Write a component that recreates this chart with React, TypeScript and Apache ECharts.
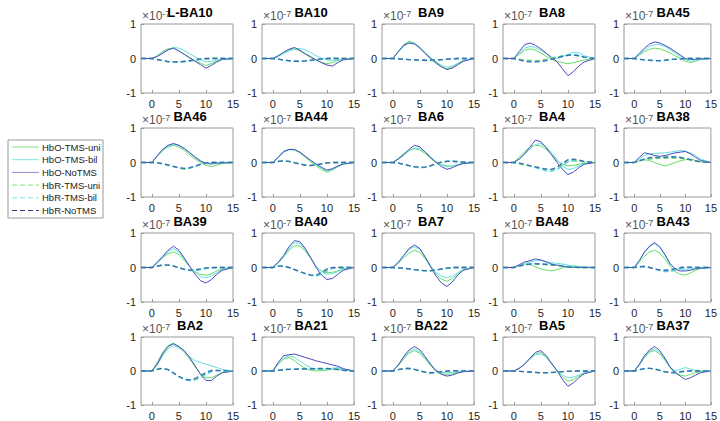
import React, { useEffect, useRef } from "react";
import * as echarts from "echarts";

const xs = [-2, 0, 1, 2, 3, 4, 5, 6, 7, 8, 9, 10, 11, 12, 13, 15];
const xTicks = [0, 5, 10, 15];
const panelNames = [
  "L-BA10", "BA10", "BA9", "BA8", "BA45",
  "BA46", "BA44", "BA6", "BA4", "BA38",
  "BA39", "BA40", "BA7", "BA48", "BA43",
  "BA2", "BA21", "BA22", "BA5", "BA37",
];
const seriesNames = ["HbO-TMS-uni", "HbO-TMS-bil", "HbO-NoTMS", "HbR-TMS-uni", "HbR-TMS-bil", "HbR-NoTMS"];

// values in units of 1e-7
const hboUni = [
  [0,0,0.08,0.2,0.28,0.3,0.22,0.12,0.02,-0.07,-0.14,-0.2,-0.15,-0.08,-0.02,0],
  [0,0,0.08,0.18,0.25,0.28,0.22,0.12,0.03,-0.05,-0.11,-0.15,-0.12,-0.06,-0.02,0],
  [0,0,0.2,0.4,0.5,0.45,0.32,0.15,-0.02,-0.15,-0.25,-0.3,-0.25,-0.15,-0.06,0],
  [0,0,0.12,0.24,0.28,0.24,0.16,0.06,-0.02,-0.08,-0.12,-0.15,-0.12,-0.08,-0.04,0],
  [0,0,0.1,0.2,0.27,0.3,0.28,0.23,0.16,0.08,0,-0.08,-0.12,-0.08,-0.03,0],
  [0,0,0.18,0.34,0.45,0.5,0.45,0.35,0.22,0.1,0,-0.08,-0.12,-0.08,-0.03,0],
  [0,0,0.15,0.32,0.38,0.36,0.28,0.15,0.02,-0.1,-0.2,-0.28,-0.22,-0.13,-0.05,0],
  [0,0,0.12,0.26,0.36,0.4,0.36,0.26,0.12,0,-0.06,-0.1,-0.1,-0.06,-0.02,0],
  [0,0,0.15,0.32,0.45,0.5,0.48,0.38,0.22,0.05,-0.05,-0.1,-0.08,-0.05,-0.02,0],
  [0,0,0.05,0.08,0.06,0,-0.05,-0.1,-0.06,0,0.05,0.08,0.1,0.06,0.02,0],
  [0,0,0.13,0.28,0.4,0.45,0.38,0.2,0.02,-0.12,-0.2,-0.22,-0.18,-0.1,-0.04,0],
  [0,0,0.13,0.3,0.5,0.63,0.62,0.48,0.26,0.03,-0.1,-0.15,-0.14,-0.1,-0.04,0],
  [0,0,0.12,0.28,0.42,0.5,0.44,0.25,0.02,-0.2,-0.34,-0.4,-0.32,-0.18,-0.07,0],
  [0,0,0.05,0.1,0.08,0.02,-0.04,-0.08,-0.1,-0.06,-0.01,0.03,0.05,0.03,0.01,0],
  [0,0,0.15,0.32,0.45,0.5,0.42,0.25,0.04,-0.12,-0.2,-0.22,-0.16,-0.08,-0.03,0],
  [0,0,0.25,0.55,0.75,0.82,0.72,0.55,0.35,0.12,-0.08,-0.2,-0.2,-0.12,-0.05,0],
  [0,0,0.2,0.35,0.4,0.3,0.18,0.08,0.02,0,0.01,0.03,0.05,0.06,0.03,0],
  [0,0,0.15,0.36,0.52,0.6,0.52,0.35,0.15,0,-0.08,-0.1,-0.08,-0.04,-0.02,0],
  [0,0,0.08,0.2,0.36,0.5,0.55,0.42,0.2,0,-0.18,-0.3,-0.25,-0.15,-0.06,0],
  [0,0,0.17,0.4,0.55,0.6,0.5,0.32,0.1,-0.05,-0.12,-0.15,-0.1,-0.05,-0.02,0],
];
const hboBil = [
  [0,0,0.07,0.17,0.26,0.32,0.3,0.23,0.14,0.05,-0.03,-0.1,-0.09,-0.05,-0.02,0],
  [0,0,0.06,0.14,0.22,0.27,0.29,0.25,0.17,0.08,0.01,-0.04,-0.06,-0.04,-0.02,0],
  [0,0,0.18,0.36,0.46,0.44,0.33,0.17,0.02,-0.1,-0.2,-0.25,-0.22,-0.14,-0.06,0],
  [0,0,0.15,0.3,0.35,0.32,0.24,0.14,0.04,0,0.05,0.12,0.18,0.17,0.08,0],
  [0,0,0.12,0.25,0.35,0.4,0.4,0.35,0.26,0.16,0.06,-0.03,-0.08,-0.06,-0.02,0],
  [0,0,0.18,0.35,0.47,0.53,0.5,0.42,0.3,0.17,0.06,-0.02,-0.04,-0.03,-0.01,0],
  [0,0,0.14,0.3,0.37,0.37,0.3,0.18,0.05,-0.06,-0.16,-0.25,-0.2,-0.12,-0.05,0],
  [0,0,0.1,0.22,0.34,0.42,0.4,0.3,0.16,0.02,-0.08,-0.12,-0.1,-0.06,-0.02,0],
  [0,0,0.1,0.25,0.4,0.52,0.55,0.45,0.28,0.08,-0.1,-0.2,-0.18,-0.1,-0.04,0],
  [0,0,0.1,0.2,0.25,0.26,0.27,0.28,0.3,0.32,0.35,0.33,0.28,0.2,0.1,0],
  [0,0,0.14,0.3,0.45,0.55,0.45,0.25,0.03,-0.15,-0.27,-0.3,-0.25,-0.15,-0.06,0],
  [0,0,0.14,0.32,0.55,0.72,0.7,0.52,0.28,0.03,-0.12,-0.2,-0.18,-0.12,-0.05,0],
  [0,0,0.14,0.33,0.52,0.6,0.52,0.3,0.05,-0.15,-0.25,-0.3,-0.25,-0.15,-0.06,0],
  [0,0,0.06,0.12,0.16,0.2,0.2,0.17,0.14,0.12,0.1,0.07,0.04,0.02,0.01,0],
  [0,0,0.2,0.43,0.6,0.7,0.58,0.36,0.1,-0.03,-0.05,-0.05,-0.04,-0.02,-0.01,0],
  [0,0,0.18,0.45,0.65,0.75,0.68,0.56,0.42,0.3,0.25,0.2,0.15,0.1,0.05,0],
  [0,0,0.2,0.38,0.45,0.4,0.3,0.18,0.1,0.06,0.05,0.06,0.08,0.1,0.05,0],
  [0,0,0.17,0.4,0.56,0.65,0.56,0.38,0.18,0.02,-0.04,-0.05,-0.04,-0.02,-0.01,0],
  [0,0,0.08,0.2,0.35,0.48,0.5,0.4,0.22,0.02,-0.12,-0.2,-0.18,-0.12,-0.05,0],
  [0,0,0.18,0.42,0.58,0.65,0.55,0.35,0.12,0,0.05,0.1,0.06,0.02,0.01,0],
];
const hboNo = [
  [0,0,0.06,0.15,0.25,0.3,0.22,0.12,0.02,-0.08,-0.18,-0.28,-0.2,-0.1,-0.03,0],
  [0,0,0.08,0.18,0.27,0.32,0.24,0.14,0.05,-0.04,-0.12,-0.19,-0.22,-0.12,-0.04,0],
  [0,0,0.2,0.38,0.45,0.42,0.3,0.14,0,-0.12,-0.24,-0.32,-0.28,-0.18,-0.08,0],
  [0,0,0.2,0.4,0.45,0.38,0.28,0.15,0.02,-0.1,-0.3,-0.5,-0.38,-0.22,-0.1,0],
  [0,0,0.15,0.3,0.42,0.48,0.45,0.38,0.3,0.2,0.1,0,-0.03,-0.02,-0.01,0],
  [0,0,0.2,0.38,0.5,0.55,0.5,0.4,0.28,0.15,0.04,-0.03,-0.04,-0.02,-0.01,0],
  [0,0,0.15,0.32,0.38,0.38,0.3,0.18,0.06,-0.04,-0.14,-0.22,-0.18,-0.1,-0.04,0],
  [0,0,0.1,0.22,0.38,0.5,0.45,0.3,0.14,0,-0.12,-0.2,-0.15,-0.08,-0.03,0],
  [0,0,0.1,0.25,0.45,0.65,0.6,0.42,0.22,0,-0.2,-0.35,-0.28,-0.15,-0.05,0],
  [0,0,0.15,0.28,0.25,0.2,0.18,0.2,0.24,0.28,0.3,0.32,0.25,0.15,0.06,0],
  [0,0,0.15,0.32,0.5,0.62,0.5,0.28,0.03,-0.2,-0.38,-0.45,-0.35,-0.2,-0.08,0],
  [0,0,0.15,0.35,0.6,0.78,0.75,0.55,0.28,0,-0.22,-0.35,-0.32,-0.2,-0.08,0],
  [0,0,0.15,0.35,0.55,0.65,0.55,0.3,0.02,-0.25,-0.45,-0.55,-0.42,-0.22,-0.08,0],
  [0,0,0.08,0.16,0.2,0.25,0.22,0.16,0.1,0.07,0.04,0.01,0,0,0,0],
  [0,0,0.2,0.45,0.62,0.72,0.6,0.38,0.12,-0.05,-0.1,-0.1,-0.08,-0.04,-0.02,0],
  [0,0,0.2,0.5,0.72,0.8,0.72,0.6,0.4,0.15,-0.1,-0.28,-0.28,-0.15,-0.05,0],
  [0,0,0.25,0.45,0.48,0.5,0.45,0.4,0.35,0.3,0.26,0.22,0.18,0.14,0.07,0],
  [0,0,0.18,0.42,0.62,0.72,0.62,0.42,0.2,0,-0.1,-0.15,-0.12,-0.06,-0.02,0],
  [0,0,0.08,0.2,0.38,0.55,0.6,0.45,0.22,0,-0.25,-0.45,-0.35,-0.2,-0.08,0],
  [0,0,0.2,0.45,0.62,0.72,0.6,0.38,0.12,-0.05,-0.15,-0.25,-0.2,-0.12,-0.05,0],
];
const hbrUni = [
  [0,0,-0.03,-0.06,-0.09,-0.1,-0.1,-0.09,-0.07,-0.05,-0.02,0,0.01,0.01,0,0],
  [0,0,-0.02,-0.05,-0.07,-0.08,-0.08,-0.07,-0.05,-0.03,-0.01,0,0.01,0,0,0],
  [0,0,-0.01,-0.02,-0.03,-0.04,-0.05,-0.06,-0.06,-0.05,-0.04,-0.02,-0.01,0,0,0],
  [0,0,-0.02,-0.04,-0.05,-0.06,-0.05,-0.02,0.02,0.05,0.08,0.1,0.1,0.08,0.04,0],
  [0,0,-0.02,-0.04,-0.05,-0.06,-0.06,-0.05,-0.04,-0.02,-0.01,0,0,0,0,0],
  [0,0,-0.01,-0.04,-0.08,-0.12,-0.16,-0.2,-0.17,-0.12,-0.06,-0.02,0,0,0,0],
  [0,0,0.03,0.05,0.03,0,-0.04,-0.07,-0.08,-0.07,-0.04,-0.01,0,0,0,0],
  [0,0,-0.02,-0.05,-0.09,-0.13,-0.15,-0.14,-0.1,-0.04,0.01,0.04,0.04,0.03,0.01,0],
  [0,0,-0.04,-0.08,-0.1,-0.13,-0.17,-0.2,-0.2,-0.15,-0.06,0.03,0.05,0.04,0.02,0],
  [0,0,0.04,0.08,0.1,0.11,0.12,0.12,0.13,0.13,0.12,0.1,0.07,0.04,0.02,0],
  [0,0,0.04,0.07,0.08,0.05,0,-0.05,-0.08,-0.08,-0.06,-0.03,-0.01,0,0,0],
  [0,0,0.04,0.04,0,-0.06,-0.12,-0.18,-0.22,-0.24,-0.18,-0.08,-0.02,0,0,0],
  [0,0,-0.01,-0.02,-0.04,-0.06,-0.08,-0.1,-0.1,-0.08,-0.05,-0.02,0,0,0,0],
  [0,0,0.04,0.08,0.1,0.1,0.09,0.08,0.07,0.06,0.04,0.02,0.01,0,0,0],
  [0,0,0.02,0.03,0,-0.04,-0.08,-0.1,-0.1,-0.06,-0.02,0,0,0,0,0],
  [0,0,0.05,0.08,0.04,-0.06,-0.16,-0.24,-0.27,-0.25,-0.18,-0.08,0,0.02,0.01,0],
  [0,0,0.02,0.04,0.05,0.05,0.05,0.05,0.05,0.05,0.05,0.05,0.05,0.04,0.02,0],
  [0,0,0.04,0.07,0.08,0.05,0,-0.04,-0.06,-0.05,-0.03,-0.01,0,0,0,0],
  [0,0,-0.01,-0.02,-0.03,-0.04,-0.05,-0.05,-0.04,-0.03,-0.02,-0.01,0,0,0,0],
  [0,0,0.04,0.07,0.08,0.06,0.02,-0.02,-0.05,-0.05,-0.03,-0.01,0,0,0,0],
];
const hbrBil = [
  [0,0,-0.03,-0.07,-0.1,-0.11,-0.11,-0.1,-0.08,-0.05,-0.03,-0.01,0,0,0,0],
  [0,0,-0.02,-0.05,-0.07,-0.08,-0.09,-0.08,-0.06,-0.04,-0.02,0,0,0,0,0],
  [0,0,-0.01,-0.02,-0.03,-0.04,-0.05,-0.05,-0.05,-0.04,-0.03,-0.02,-0.01,0,0,0],
  [0,0,-0.03,-0.06,-0.08,-0.09,-0.08,-0.05,-0.01,0.03,0.07,0.1,0.12,0.1,0.05,0],
  [0,0,-0.02,-0.04,-0.06,-0.07,-0.07,-0.06,-0.04,-0.02,-0.01,0,0,0,0,0],
  [0,0,-0.01,-0.04,-0.08,-0.12,-0.16,-0.18,-0.16,-0.11,-0.06,-0.02,0,0,0,0],
  [0,0,0.03,0.05,0.03,0,-0.04,-0.07,-0.09,-0.07,-0.04,-0.01,0,0,0,0],
  [0,0,-0.02,-0.05,-0.09,-0.13,-0.15,-0.14,-0.1,-0.04,0.01,0.04,0.05,0.03,0.01,0],
  [0,0,-0.02,-0.06,-0.1,-0.15,-0.2,-0.24,-0.25,-0.2,-0.1,0.02,0.06,0.05,0.02,0],
  [0,0,0.05,0.1,0.13,0.15,0.16,0.17,0.18,0.17,0.15,0.12,0.08,0.05,0.02,0],
  [0,0,0.04,0.07,0.07,0.04,-0.01,-0.06,-0.09,-0.09,-0.06,-0.03,-0.01,0,0,0],
  [0,0,0.04,0.04,0,-0.06,-0.12,-0.18,-0.23,-0.25,-0.2,-0.1,-0.03,0,0,0],
  [0,0,-0.01,-0.02,-0.04,-0.06,-0.08,-0.1,-0.1,-0.08,-0.05,-0.02,0,0,0,0],
  [0,0,0.04,0.08,0.1,0.11,0.11,0.1,0.09,0.07,0.05,0.03,0.01,0,0,0],
  [0,0,0.02,0.03,0,-0.05,-0.09,-0.12,-0.12,-0.08,-0.03,0,0,0,0,0],
  [0,0,0.05,0.08,0.04,-0.06,-0.17,-0.26,-0.28,-0.26,-0.2,-0.1,-0.02,0.01,0,0],
  [0,0,0.02,0.04,0.05,0.06,0.06,0.06,0.06,0.06,0.06,0.06,0.05,0.04,0.02,0],
  [0,0,0.04,0.07,0.08,0.05,0,-0.04,-0.06,-0.05,-0.03,-0.01,0,0,0,0],
  [0,0,-0.01,-0.02,-0.03,-0.05,-0.06,-0.06,-0.05,-0.04,-0.02,-0.01,0,0,0,0],
  [0,0,0.04,0.07,0.08,0.05,0.01,-0.03,-0.06,-0.06,-0.04,-0.01,0,0,0,0],
];
const hbrNo = [
  [0,0,-0.03,-0.06,-0.09,-0.1,-0.1,-0.08,-0.06,-0.03,-0.01,0,0,0,0,0],
  [0,0,-0.02,-0.04,-0.06,-0.08,-0.08,-0.07,-0.05,-0.03,-0.01,0,0,0,0,0],
  [0,0,-0.01,-0.02,-0.03,-0.04,-0.05,-0.05,-0.05,-0.04,-0.03,-0.02,-0.01,0,0,0],
  [0,0,-0.04,-0.08,-0.1,-0.1,-0.09,-0.06,-0.02,0.02,0.06,0.09,0.1,0.08,0.04,0],
  [0,0,-0.02,-0.04,-0.05,-0.06,-0.06,-0.05,-0.03,-0.02,-0.01,0,0,0,0,0],
  [0,0,-0.01,-0.03,-0.07,-0.11,-0.15,-0.17,-0.15,-0.1,-0.05,-0.01,0,0,0,0],
  [0,0,0.03,0.05,0.03,-0.01,-0.05,-0.08,-0.09,-0.07,-0.04,-0.01,0,0,0,0],
  [0,0,-0.02,-0.05,-0.09,-0.12,-0.14,-0.13,-0.09,-0.03,0.01,0.03,0.03,0.02,0.01,0],
  [0,0,-0.02,-0.05,-0.09,-0.13,-0.16,-0.19,-0.2,-0.14,-0.02,0.08,0.1,0.07,0.03,0],
  [0,0,0.05,0.1,0.14,0.15,0.15,0.15,0.16,0.16,0.15,0.12,0.08,0.05,0.02,0],
  [0,0,0.04,0.07,0.07,0.04,-0.01,-0.05,-0.08,-0.07,-0.04,-0.01,0,0,0,0],
  [0,0,0.04,0.04,0,-0.06,-0.12,-0.18,-0.22,-0.22,-0.14,-0.04,0,0,0,0],
  [0,0,-0.01,-0.02,-0.04,-0.06,-0.08,-0.09,-0.09,-0.07,-0.04,-0.02,0,0,0,0],
  [0,0,0.04,0.08,0.1,0.11,0.1,0.09,0.08,0.06,0.04,0.02,0.01,0,0,0],
  [0,0,0.02,0.03,0,-0.04,-0.07,-0.08,-0.07,-0.03,0,0.01,0.01,0,0,0],
  [0,0,0.05,0.08,0.04,-0.06,-0.16,-0.24,-0.26,-0.22,-0.14,-0.04,0.02,0.02,0.01,0],
  [0,0,0.02,0.04,0.05,0.05,0.06,0.06,0.07,0.07,0.08,0.08,0.07,0.05,0.02,0],
  [0,0,0.04,0.07,0.08,0.05,0.01,-0.03,-0.05,-0.04,-0.02,0,0.01,0,0,0],
  [0,0,-0.01,-0.02,-0.03,-0.04,-0.05,-0.05,-0.04,-0.03,-0.02,-0.01,0,0,0,0],
  [0,0,0.04,0.07,0.08,0.06,0.02,-0.02,-0.04,-0.04,-0.02,0,0.01,0,0,0],
];

const seriesData = [hboUni, hboBil, hboNo, hbrUni, hbrBil, hbrNo];
const seriesColors = ["#66dd66", "#66e0e0", "#4a4ac0", "#66dd66", "#4fd0e0", "#3d6cb5"];
const legendColors = ["#7fe07f", "#7fe6e6", "#8a8ad6", "#7fe07f", "#7fe6e6", "#3a3a78"];
const seriesDashed = [false, false, false, true, true, true];

const colLefts = [141, 262, 382, 503, 624];
const rowTops = [24, 128, 233, 337];
const boxW = 92;
const boxH = 69;
const FONT = "'Liberation Sans', Arial, Helvetica, sans-serif";

export default function App() {
  const ref = useRef<HTMLDivElement>(null);
  useEffect(() => {
    if (!ref.current) return;
    const chart = echarts.init(ref.current, undefined, { renderer: "svg" });
    const grids: any[] = [];
    const xAxes: any[] = [];
    const yAxes: any[] = [];
    const series: any[] = [];
    const titles: any[] = [];
    const graphics: any[] = [];
    panelNames.forEach((name, i) => {
      const r = Math.floor(i / 5);
      const c = i % 5;
      const left = colLefts[c];
      const top = rowTops[r];
      grids.push({
        left, top, width: boxW, height: boxH,
        show: true, borderColor: "#9a9a9a", borderWidth: 1, backgroundColor: "#fff",
      });
      xAxes.push({
        type: "value", gridIndex: i, min: -2, max: 15,
        axisLine: { show: false, onZero: false },
        splitLine: { show: false },
        axisTick: { show: true, inside: true, length: 3, customValues: xTicks, lineStyle: { color: "#9a9a9a" } },
        axisLabel: { customValues: xTicks, fontSize: 11, color: "#262626", fontFamily: FONT, margin: 5 },
      });
      yAxes.push({
        type: "value", gridIndex: i, min: -1, max: 1, interval: 1,
        axisLine: { show: false, onZero: false },
        splitLine: { show: false },
        axisTick: { show: true, inside: true, length: 3, lineStyle: { color: "#9a9a9a" } },
        axisLabel: { fontSize: 11, color: "#262626", fontFamily: FONT, margin: 5 },
      });
      seriesData.forEach((arr, s) => {
        series.push({
          type: "line",
          name: seriesNames[s],
          xAxisIndex: i,
          yAxisIndex: i,
          data: xs.map((x, k) => [x, arr[i][k]]),
          symbol: "none",
          showSymbol: false,
          smooth: false,
          color: seriesColors[s],
          lineStyle: {
            color: seriesColors[s],
            width: seriesDashed[s] ? 1.3 : 1,
            type: seriesDashed[s] ? [5, 3] : "solid",
          },
          z: seriesDashed[s] ? 3 : 2,
          silent: true,
        });
      });
      graphics.push({
        type: "text",
        left: left + 1,
        top: top - 15,
        style: {
          text: "{a|×10}{b|-7}",
          rich: {
            a: { fontSize: 12, fill: "#555", fontFamily: FONT, lineHeight: 14 },
            b: { fontSize: 9, fill: "#555", fontFamily: FONT, verticalAlign: "top", lineHeight: 14 },
          },
        },
      });
      titles.push({
        text: name,
        left: left + boxW / 2 + 3,
        top: top - 18,
        textAlign: "center",
        padding: 0,
        textStyle: { fontSize: 13, fontWeight: "bold", color: "#000", fontFamily: FONT },
      });
    });

    // legend drawn as graphic elements
    const lgX = 8, lgY = 140, lgW = 95, lgH = 78, rowH = 12.7;
    graphics.push({
      type: "rect",
      shape: { x: lgX, y: lgY, width: lgW, height: lgH },
      style: { fill: "#fff", stroke: "#999", lineWidth: 1 },
      z: 10,
    });
    seriesNames.forEach((nm, s) => {
      const cy = lgY + 7 + s * rowH;
      graphics.push({
        type: "line",
        shape: { x1: lgX + 4, y1: cy, x2: lgX + 31, y2: cy },
        style: {
          stroke: legendColors[s],
          lineWidth: 1,
          lineDash: seriesDashed[s] ? [5, 3] : null,
        },
        z: 11,
      });
      graphics.push({
        type: "text",
        x: lgX + 34,
        y: cy,
        style: {
          text: nm,
          fontSize: 9.5,
          fill: "#222",
          fontFamily: FONT,
          verticalAlign: "middle",
          textVerticalAlign: "middle",
        },
        z: 11,
      });
    });

    chart.setOption({
      animation: false,
      backgroundColor: "#fff",
      title: titles,
      grid: grids,
      xAxis: xAxes,
      yAxis: yAxes,
      series,
      graphic: graphics,
    });
    return () => chart.dispose();
  }, []);
  return <div ref={ref} style={{ position: "fixed", left: 0, top: 0, width: 720, height: 421 }} />;
}
